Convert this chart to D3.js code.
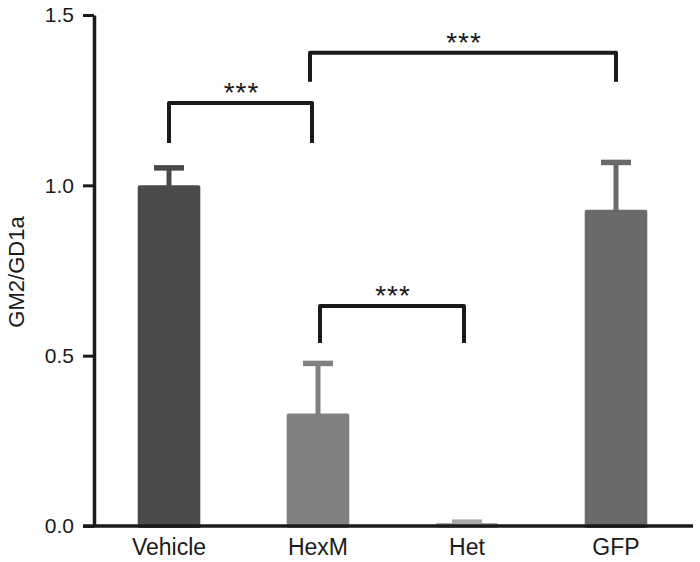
<!DOCTYPE html>
<html>
<head>
<meta charset="utf-8">
<script src="https://cdn.jsdelivr.net/npm/d3@7"></script>
<style>
  body { margin: 0; background: #fff; }
  text { font-family: "Liberation Sans", Arial, sans-serif; }
</style>
</head>
<body>
<div id="chart"></div>
<script>

var categories = ['Vehicle', 'HexM', 'Het', 'GFP'];
var means = [1.0, 0.33, 0.009, 0.928];
var errors = [0.052, 0.148, 0.003, 0.14];
var barColors = ['#4a4a4a', '#808080', '#a8a8a8', '#6a6a6a'];
var yTicks = [0.0, 0.5, 1.0, 1.5];

// significance brackets: pair of groups, bar height and leg end (data units)
var brackets = [
    {from: 'Vehicle', to: 'HexM', top: 1.242, leg: 1.124, label: '***'},
    {from: 'HexM', to: 'GFP', top: 1.389, leg: 1.304, label: '***'},
    {from: 'HexM', to: 'Het', top: 0.646, leg: 0.537, label: '***'}
];

var width = 700, height = 562;

var svg = d3.select('#chart').append('svg')
    .attr('width', width)
    .attr('height', height);

var x = d3.scaleBand()
    .domain(categories)
    .range([94.5, 690.5])
    .paddingInner(0.58)
    .paddingOuter(0.29);

var y = d3.scaleLinear()
    .domain([0, 1.5])
    .range([526, 15]);

var axisX0 = 94;

function mid(d){ return x(d) + x.bandwidth() / 2; }

// bars
var bars = svg.append('g').selectAll('g.bar')
    .data(categories)
    .enter().append('g').attr('class', 'bar');

// error bars (upper only)
bars.append('rect')
    .attr('x', function(d){ return mid(d) - 2.5; })
    .attr('y', function(d, i){ return y(means[i] + errors[i]); })
    .attr('width', 5)
    .attr('height', function(d, i){ return y(means[i]) - y(means[i] + errors[i]) + 2; })
    .attr('fill', function(d, i){ return barColors[i]; });

bars.append('rect')
    .attr('x', function(d){ return mid(d) - 15; })
    .attr('y', function(d, i){ return y(means[i] + errors[i]) - 2.5; })
    .attr('width', 30)
    .attr('height', 5.5)
    .attr('fill', function(d, i){ return barColors[i]; });

bars.append('rect')
    .attr('x', function(d){ return x(d); })
    .attr('y', function(d, i){ return y(means[i]); })
    .attr('width', x.bandwidth())
    .attr('height', function(d, i){ return y(0) - y(means[i]) + 2; })
    .attr('rx', 2)
    .attr('fill', function(d, i){ return barColors[i]; });

// y axis
var yAxis = svg.append('g')
    .attr('transform', 'translate(' + axisX0 + ',0)')
    .call(d3.axisLeft(y)
        .tickValues(yTicks)
        .tickFormat(d3.format('.1f'))
        .tickSize(11)
        .tickSizeOuter(0)
        .tickPadding(9));

yAxis.select('.domain')
    .attr('stroke', '#1a1a1a')
    .attr('stroke-width', 3.5);
yAxis.selectAll('.tick line')
    .attr('stroke', '#1a1a1a')
    .attr('stroke-width', 3);
yAxis.selectAll('.tick text')
    .style('font-size', '21px')
    .attr('fill', '#1a1a1a');

// x axis
var xAxis = svg.append('g')
    .attr('transform', 'translate(0,' + y(0) + ')')
    .call(d3.axisBottom(x).tickSize(0).tickPadding(13));

xAxis.select('.domain').remove();
xAxis.append('line')
    .attr('x1', axisX0 - 11)
    .attr('x2', 693)
    .attr('stroke', '#1a1a1a')
    .attr('stroke-width', 3.5);
xAxis.selectAll('.tick text')
    .style('font-size', '23px')
    .attr('fill', '#1a1a1a');

// y label
svg.append('text')
    .attr('transform', 'translate(24,272) rotate(-90)')
    .attr('text-anchor', 'middle')
    .style('font-size', '22px')
    .attr('fill', '#1a1a1a')
    .text('GM2/GD1a');

// significance brackets; legs nudged a little off the bar centres as in the figure
var legNudge = {'Vehicle-HexM': [0, -6], 'HexM-GFP': [-8, 0], 'HexM-Het': [2, -3]};

var br = svg.append('g').selectAll('g.bracket')
    .data(brackets)
    .enter().append('g').attr('class', 'bracket');

function legs(d){
    var n = legNudge[d.from + '-' + d.to];
    return [mid(d.from) + n[0], mid(d.to) + n[1]];
}

br.append('path')
    .attr('d', function(d){
        var l = legs(d);
        return 'M' + l[0] + ',' + y(d.leg) + 'V' + y(d.top) + 'H' + l[1] + 'V' + y(d.leg);
    })
    .attr('fill', 'none')
    .attr('stroke', '#1a1a1a')
    .attr('stroke-width', 4)
    .attr('stroke-linejoin', 'round');

br.append('text')
    .attr('x', function(d){ var l = legs(d); return (l[0] + l[1]) / 2 + 1; })
    .attr('y', function(d){ return y(d.top) - 1; })
    .attr('text-anchor', 'middle')
    .style('font-size', '28px')
    .style('letter-spacing', '1px')
    .attr('fill', '#1a1a1a')
    .text(function(d){ return d.label; });

</script>
</body>
</html>
